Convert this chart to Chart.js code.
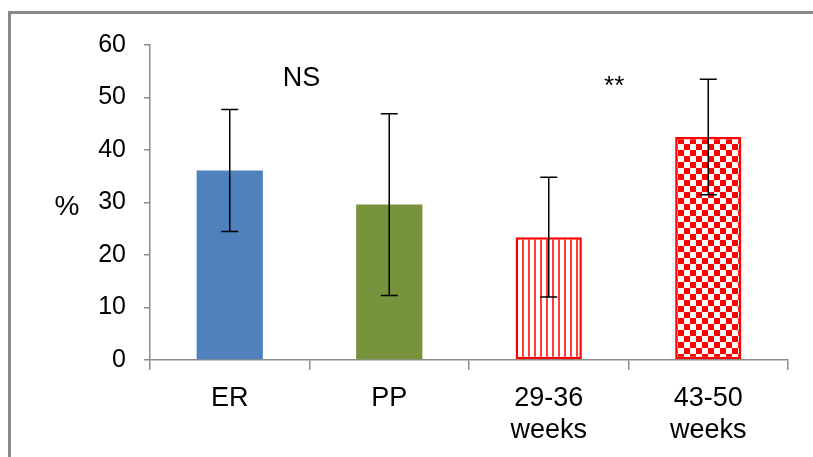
<!DOCTYPE html>
<html>
<head>
<meta charset="utf-8">
<script src="https://cdn.jsdelivr.net/npm/chart.js@4/dist/chart.umd.min.js"></script>
<style>
  html, body { margin: 0; padding: 0; background: #fff; }
  canvas { display: block; }
</style>
</head>
<body>
<canvas id="c" width="813" height="457"></canvas>
<script>
// ---- data ----
const categories = ['ER', 'PP', ['29-36', 'weeks'], ['43-50', 'weeks']];
const values = [36.1, 29.6, 23.4, 42.5];
const errors = [11.6, 17.3, 11.4, 11.0];
const yMin = 0;
const yMax = 60;
const yStep = 10;
const yTitle = '%';
const noteTexts = ['NS', '**'];
const noteX = [0.45, 2.41];      // category index positions
const noteY = [53.7, 52.0];      // value positions

// ---- styles ----
const FONT = '"Liberation Sans", Arial, sans-serif';
const AXIS_GRAY = '#8c8c8c';

function stripePattern() {
  const c = document.createElement('canvas');
  c.width = 6; c.height = 6;
  const g = c.getContext('2d');
  g.fillStyle = '#ffffff'; g.fillRect(0, 0, 6, 6);
  g.fillStyle = '#ff3b3b'; g.fillRect(0, 0, 2, 6);
  return g.createPattern(c, 'repeat');
}
function checkerPattern() {
  const c = document.createElement('canvas');
  c.width = 12; c.height = 12;
  const g = c.getContext('2d');
  g.fillStyle = '#ffffff'; g.fillRect(0, 0, 12, 12);
  g.fillStyle = '#ff0000';
  g.fillRect(0, 0, 6, 6); g.fillRect(6, 6, 6, 6);
  return g.createPattern(c, 'repeat');
}

const framePlugin = {
  id: 'frame',
  beforeDraw(chart) {
    const ctx = chart.ctx;
    ctx.save();
    ctx.fillStyle = '#8a8a8a';
    ctx.fillRect(8, 11, chart.width - 8, 3);
    ctx.fillRect(8, 11, 3, chart.height - 11);
    ctx.restore();
  }
};

const errorBarPlugin = {
  id: 'errorBars',
  afterDatasetsDraw(chart) {
    const ctx = chart.ctx;
    const meta = chart.getDatasetMeta(0);
    const y = chart.scales.y;
    ctx.save();
    ctx.strokeStyle = '#000';
    ctx.lineWidth = 1.5;
    meta.data.forEach((bar, i) => {
      const x = bar.x;
      const top = y.getPixelForValue(values[i] + errors[i]);
      const bot = y.getPixelForValue(values[i] - errors[i]);
      ctx.beginPath();
      ctx.moveTo(x, top); ctx.lineTo(x, bot);
      ctx.moveTo(x - 8.5, top); ctx.lineTo(x + 8.5, top);
      ctx.moveTo(x - 8.5, bot); ctx.lineTo(x + 8.5, bot);
      ctx.stroke();
    });
    ctx.restore();
  }
};

const textPlugin = {
  id: 'texts',
  afterDraw(chart) {
    const ctx = chart.ctx;
    const xs = chart.scales.x, ys = chart.scales.y;
    const area = chart.chartArea;
    ctx.save();
    ctx.fillStyle = '#000';
    ctx.textAlign = 'center';
    ctx.textBaseline = 'middle';
    ctx.font = '28px ' + FONT;
    ctx.fillText(yTitle, 67, (area.top + area.bottom) / 2 + 5);
    noteTexts.forEach((t, i) => {
      ctx.font = (t === '**' ? '26px ' : '27px ') + FONT;
      ctx.fillText(t, xs.getPixelForValue(noteX[i]), ys.getPixelForValue(noteY[i]));
    });
    ctx.restore();
  }
};

new Chart(document.getElementById('c'), {
  type: 'bar',
  data: {
    labels: categories,
    datasets: [{
      data: values,
      backgroundColor: ['#4f81bd', '#77933c', stripePattern(), checkerPattern()],
      borderColor: ['#4f81bd', '#77933c', '#ff0000', '#ff0000'],
      borderWidth: [0, 0, 2.5, 2.5],
      borderSkipped: false,
      barPercentage: 0.415,
      categoryPercentage: 1.0
    }]
  },
  options: {
    responsive: false,
    devicePixelRatio: 1,
    animation: false,
    layout: { padding: { left: 0, top: 45, right: 25, bottom: 0 } },
    plugins: { legend: { display: false }, tooltip: { enabled: false } },
    scales: {
      x: {
        grid: { display: true, drawOnChartArea: false, drawTicks: true, tickLength: 10, color: AXIS_GRAY, lineWidth: 1.5, offset: true },
        border: { display: true, color: AXIS_GRAY, width: 1.5 },
        ticks: { color: '#000', font: { family: FONT, size: 27, lineHeight: 1.2 }, padding: 12, maxRotation: 0, autoSkip: false },
        afterFit(s) { s.height = 97; }
      },
      y: {
        min: yMin, max: yMax,
        grid: { display: true, drawOnChartArea: false, drawTicks: true, tickLength: 6, color: AXIS_GRAY, lineWidth: 1.5 },
        border: { display: true, color: AXIS_GRAY, width: 1.5 },
        ticks: { stepSize: yStep, color: '#000', font: { family: FONT, size: 25 }, padding: 18 },
        afterFit(s) { s.width = 150; }
      }
    }
  },
  plugins: [framePlugin, errorBarPlugin, textPlugin]
});
</script>
</body>
</html>
